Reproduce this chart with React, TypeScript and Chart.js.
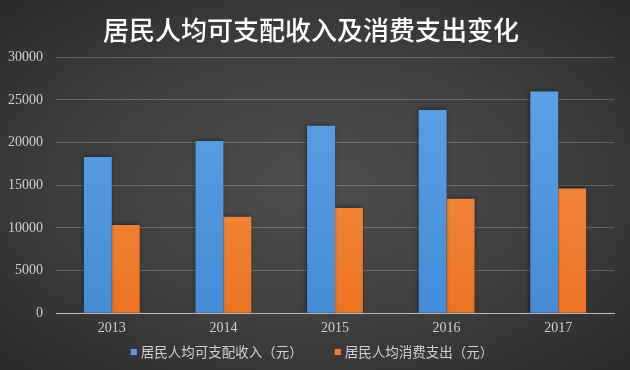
import React, { useEffect, useRef } from "react";
import { Chart, registerables } from "chart.js";

Chart.register(...registerables);

const years = ["2013", "2014", "2015", "2016", "2017"];
const incomeLabel = "居民人均可支配收入（元）";
const spendLabel = "居民人均消费支出（元）";
const income = [18311, 20167, 21966, 23821, 25974];
const spending = [10350, 11300, 12330, 13420, 14620];
const titleText = "居民人均可支配收入及消费支出变化";
const legendColors = ["#5b9ee6", "#f0823a"];

function vGrad(ctx: any, area: any, top: string, bottom: string) {
  if (!area) return top;
  const g = ctx.createLinearGradient(0, area.top, 0, area.bottom);
  g.addColorStop(0, top);
  g.addColorStop(1, bottom);
  return g;
}

const shadowPlugin = {
  id: "barShadow",
  beforeDatasetsDraw(chart: any) {
    const ctx = chart.ctx;
    ctx.save();
    ctx.shadowColor = "rgba(0,0,0,0.45)";
    ctx.shadowBlur = 4;
    ctx.shadowOffsetX = -1;
    ctx.shadowOffsetY = -1;
  },
  afterDatasetsDraw(chart: any) {
    chart.ctx.restore();
  },
};

const legendPlugin = {
  id: "customLegend",
  afterDraw(chart: any) {
    const ctx = chart.ctx;
    ctx.save();
    ctx.font = "13.5px 'Noto Sans CJK SC', sans-serif";
    ctx.textBaseline = "middle";
    ctx.textAlign = "left";
    const box = 6;
    const gapBox = 4;
    const gapItem = 32;
    const items = chart.data.datasets.map((d: any, i: number) => ({
      text: d.label,
      color: legendColors[i],
      w: box + gapBox + ctx.measureText(d.label).width,
    }));
    const total = items.reduce((s: number, it: any) => s + it.w, 0) + gapItem * (items.length - 1);
    let x = 312 - total / 2;
    const y = 352;
    items.forEach((it: any) => {
      ctx.fillStyle = it.color;
      ctx.fillRect(x, y - box / 2, box, box);
      ctx.fillStyle = "#d0d0d0";
      ctx.fillText(it.text, x + box + gapBox, y);
      x += it.w + gapItem;
    });
    ctx.restore();
  },
};

export default function App() {
  const ref = useRef<HTMLCanvasElement>(null);
  useEffect(() => {
    document.body.style.margin = "0";
    const serif = "'Liberation Serif', 'Times New Roman', serif";
    const cjk = "'Noto Sans CJK SC', sans-serif";
    const chart = new Chart(ref.current!, {
      type: "bar",
      data: {
        labels: years,
        datasets: [
          {
            label: incomeLabel,
            data: income,
            backgroundColor: (c: any) => vGrad(c.chart.ctx, c.chart.chartArea, "#5fa3e8", "#458bd6"),
            barPercentage: 1,
            categoryPercentage: 0.5,
          },
          {
            label: spendLabel,
            data: spending,
            backgroundColor: (c: any) => vGrad(c.chart.ctx, c.chart.chartArea, "#f7964f", "#ec7322"),
            barPercentage: 1,
            categoryPercentage: 0.5,
          },
        ],
      },
      options: {
        animation: false,
        responsive: false,
        maintainAspectRatio: false,
        layout: { padding: { left: 8, right: 16, top: 0, bottom: 26 } },
        plugins: {
          title: {
            display: true,
            text: titleText,
            color: "#ffffff",
            font: { family: cjk, size: 26, weight: 500 },
            padding: { top: 15, bottom: 11 },
          },
          legend: { display: false },
          tooltip: { enabled: false },
        },
        scales: {
          x: {
            grid: { display: false, drawTicks: false },
            border: { display: true, color: "#bdbdbd", width: 1 },
            ticks: { color: "#d0d0d0", font: { family: serif, size: 14 }, padding: 7 },
          },
          y: {
            min: 0,
            max: 30000,
            afterFit: (s: any) => {
              s.width = 48;
            },
            grid: { color: "rgba(255,255,255,0.2)", drawTicks: false, lineWidth: 1 },
            border: { display: false },
            ticks: {
              stepSize: 5000,
              color: "#cfcfcf",
              font: { family: serif, size: 14 },
              padding: 13,
              callback: (v: any) => String(v),
            },
          },
        },
      },
      plugins: [shadowPlugin, legendPlugin],
    });
    return () => chart.destroy();
  }, []);
  return (
    <div
      style={{
        position: "fixed",
        left: 0,
        top: 0,
        width: 630,
        height: 370,
        background:
          "radial-gradient(ellipse at 50% 50%, #4e4e4e 0%, #404040 50%, #2a2a2a 100%)",
      }}
    >
      <canvas ref={ref} width={630} height={370} style={{ display: "block" }} />
    </div>
  );
}
